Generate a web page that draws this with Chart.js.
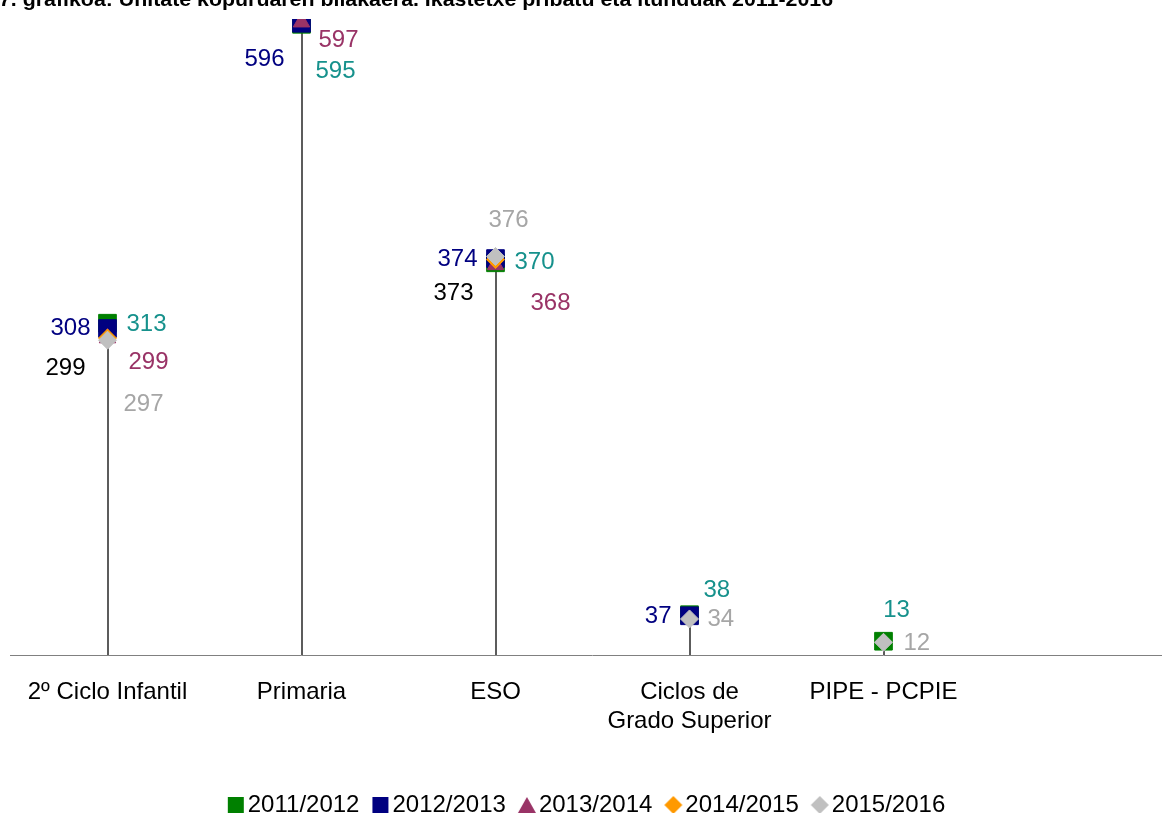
<!DOCTYPE html>
<html>
<head>
<meta charset="utf-8">
<script src="https://cdn.jsdelivr.net/npm/chart.js@4/dist/chart.umd.min.js"></script>
<style>
  html, body { margin: 0; padding: 0; background: #fff; overflow: hidden; }
  canvas { display: block; margin-left: -3px; }
</style>
</head>
<body>
<canvas id="myChart" width="1191" height="827"></canvas>
<script>
// data
var categories = ["2º Ciclo Infantil", "Primaria", "ESO", ["Ciclos de", "Grado Superior"], "PIPE - PCPIE", ""];
var years = ["2011/2012", "2012/2013", "2013/2014", "2014/2015", "2015/2016"];
var units2011 = [313, 595, 370, 38, 13, null];
var units2012 = [308, 596, 374, 37, null, null];
var units2013 = [299, 597, 368, null, null, null];
var units2014 = [299, null, 373, null, null, null];
var units2015 = [297, null, 376, 34, 12, null];

var title = "7. grafikoa: Unitate kopuruaren bilakaera. Ikastetxe pribatu eta itunduak 2011-2016";

//styles
var markerColors = ["#008000", "#000080", "#993366", "#ff9900", "#c0c0c0"];
var labelColors = ["#16918c", "#000080", "#993366", "#000000", "#a6a6a6"];
var markerStyles = ["rect", "rect", "triangle", "rectRot", "rectRot"];
var markerSizes = [12.5, 12.5, 9.5, 9, 9];

// label placement per series, per category: [dx, dy, align]
var labelPos = [
  [[19, 1, "left"], [14, 47, "left"], [19, 0, "left"], [14, -24, "left"], [13, -31, "center"]],
  [[-17, 0, "right"], [-17, 36, "right"], [-18, 1, "right"], [-18, 1, "right"]],
  [[21, 24, "left"], [17, 18, "left"], [35, 38, "left"]],
  [[-22, 30, "right"], null, [-22, 34, "right"]],
  [[16, 64, "left"], null, [13, -36, "center"], [18, 0, "left"], [20, 1, "left"]]
];

var series = [units2011, units2012, units2013, units2014, units2015];
var FONT = "'Liberation Sans', Arial, sans-serif";

var datasets = series.map(function(vals, i) {
  return {
    label: years[i],
    data: vals,
    showLine: false,
    pointStyle: markerStyles[i],
    pointRadius: markerSizes[i],
    pointHoverRadius: markerSizes[i],
    backgroundColor: markerColors[i],
    borderColor: markerColors[i],
    borderWidth: 1,
    order: 5 - i
  };
});

// small legend markers, shape shifted right so it sits close to the text
function legendIcon(style, color) {
  var c = document.createElement("canvas");
  c.width = 34; c.height = 20;
  var g = c.getContext("2d");
  var cx = 21, cy = 10;
  g.fillStyle = color;
  g.beginPath();
  if (style === "rect") {
    g.rect(cx - 8, cy - 8, 16, 16);
  } else if (style === "triangle") {
    g.moveTo(cx, cy - 8); g.lineTo(cx + 9, cy + 8); g.lineTo(cx - 9, cy + 8); g.closePath();
  } else {
    g.moveTo(cx, cy - 9); g.lineTo(cx + 9, cy); g.lineTo(cx, cy + 9); g.lineTo(cx - 9, cy); g.closePath();
  }
  g.fill();
  return c;
}
var legendIcons = markerStyles.map(function(s, i) { return legendIcon(s, markerColors[i]); });

// vertical drop lines from the highest marker to the axis
var dropLines = {
  id: "dropLines",
  beforeDatasetsDraw: function(chart) {
    var ctx = chart.ctx, x = chart.scales.x, y = chart.scales.y;
    ctx.save();
    ctx.strokeStyle = "#262626";
    ctx.lineWidth = 1.5;
    for (var c = 0; c < categories.length; c++) {
      var top = null;
      series.forEach(function(s) {
        if (s[c] != null && (top === null || s[c] > top)) top = s[c];
      });
      if (top === null) continue;
      var px = Math.round(x.getPixelForValue(c));
      ctx.beginPath();
      ctx.moveTo(px, y.getPixelForValue(top));
      ctx.lineTo(px, y.bottom);
      ctx.stroke();
    }
    ctx.restore();
  }
};

// value labels
var valueLabels = {
  id: "valueLabels",
  afterDatasetsDraw: function(chart) {
    var ctx = chart.ctx;
    ctx.save();
    ctx.font = "24px " + FONT;
    ctx.textBaseline = "middle";
    series.forEach(function(s, i) {
      var meta = chart.getDatasetMeta(i);
      s.forEach(function(v, c) {
        if (v == null) return;
        var pos = labelPos[i][c];
        if (!pos) return;
        var pt = meta.data[c];
        ctx.fillStyle = labelColors[i];
        ctx.textAlign = pos[2];
        ctx.fillText(String(v), pt.x + pos[0], pt.y + pos[1]);
      });
    });
    ctx.restore();
  }
};

var cutTitle = {
  id: "cutTitle",
  afterDraw: function(chart) {
    var ctx = chart.ctx;
    ctx.save();
    ctx.font = "bold 20px " + FONT;
    ctx.fillStyle = "#000";
    ctx.textBaseline = "alphabetic";
    ctx.textAlign = "left";
    var w = ctx.measureText(title).width;
    ctx.translate(2, 6);
    ctx.scale(834 / w, 1);
    ctx.fillText(title, 0, 0);
    ctx.restore();
  }
};

// keep the legend centred on the visible window, not on the wider canvas
var legendCenter = {
  id: "legendCenter",
  afterLayout: function(chart) {
    var lg = chart.legend;
    if (!lg) return;
    var pad = lg.options.labels.padding;
    lg.left = 0;
    lg.right = 2 * 596 - pad;
  }
};

var chart = new Chart(document.getElementById("myChart"), {
  type: "line",
  data: { labels: categories, datasets: datasets },
  plugins: [dropLines, valueLabels, cutTitle, legendCenter],
  options: {
    responsive: false,
    animation: false,
    layout: { padding: { left: 7, right: 2, top: 19, bottom: 0 } },
    scales: {
      x: {
        offset: true,
        grid: { display: false, drawTicks: false, offset: true },
        border: { display: true, color: "#808080", width: 1 },
        ticks: { color: "#000", font: { family: FONT, size: 24, lineHeight: 1.2 }, padding: 23, maxRotation: 0, autoSkip: false },
        afterFit: function(scale) { scale.height = 125; }
      },
      y: {
        display: false,
        min: 0,
        max: 600
      }
    },
    plugins: {
      title: { display: false },
      tooltip: { enabled: false },
      legend: {
        position: "bottom",
        labels: {
          usePointStyle: true,
          boxWidth: 8,
          boxHeight: 20,
          padding: 13,
          color: "#000",
          font: { family: FONT, size: 24 },
          generateLabels: function(chart) {
            return chart.data.datasets.map(function(ds, i) {
              return {
                text: ds.label,
                fillStyle: markerColors[i],
                strokeStyle: markerColors[i],
                lineWidth: 0,
                pointStyle: legendIcons[i],
                hidden: false,
                datasetIndex: i,
                fontColor: "#000"
              };
            });
          }
        }
      }
    }
  }
});
</script>
</body>
</html>
